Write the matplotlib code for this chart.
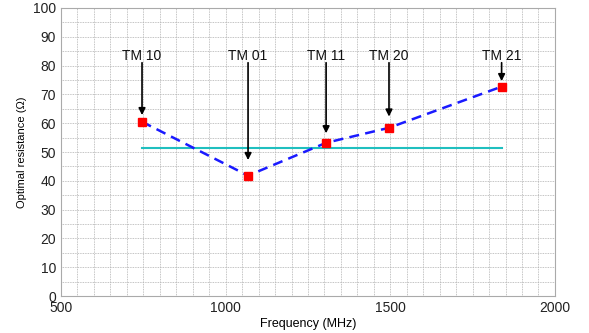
import matplotlib
matplotlib.use("Agg")
import matplotlib.pyplot as plt
import numpy as np

plt.rcParams['font.family'] = ['Liberation Sans', 'DejaVu Sans']

modes = ["TM 10", "TM 01", "TM 11", "TM 20", "TM 21"]
freq = [746, 1068, 1305, 1496, 1838]
resistance = [60.5, 41.8, 53.2, 58.4, 72.7]
ref_level = 51.3
label_y = 83.2
arrow_tail = 81.0
arrow_tip = [62.8, 47.2, 56.5, 62.3, 74.6]

fig = plt.figure(figsize=(5.89, 3.33), dpi=100)
ax = fig.add_axes([0.1036, 0.111, 0.8386, 0.865])

ax.set_xlim(500, 2000)
ax.set_ylim(0, 100)
ax.set_xticks([500, 1000, 1500, 2000])
ax.set_yticks(np.arange(0, 101, 10))
ax.set_xticks(np.arange(500, 2001, 50), minor=True)
ax.set_yticks(np.arange(0, 101, 5), minor=True)
ax.grid(True, which='both', color='#b0b0b0', linestyle=(0, (1, 1)), linewidth=0.6)
ax.set_axisbelow(True)
ax.tick_params(which='both', direction='in', length=0, labelsize=10, colors='#222222')
for s in ax.spines.values():
    s.set_color('#aaaaaa')

ax.plot([freq[0], freq[-1]], [ref_level, ref_level], color='#1fbfbf', linewidth=1.5, zorder=2)
ax.plot(freq, resistance, color='#1a1aff', linestyle=(0, (4, 2.5)), linewidth=1.8, zorder=3)
ax.plot(freq, resistance, linestyle='none', marker='s', markersize=6,
        markerfacecolor='red', markeredgecolor='red', zorder=4)

for m, f, tip in zip(modes, freq, arrow_tip):
    ax.text(f, label_y, m, ha='center', va='center', fontsize=10, color='#111111')
    ax.annotate('', xy=(f, tip), xytext=(f, arrow_tail),
                arrowprops=dict(arrowstyle='-|>', color='black', lw=1.2,
                                mutation_scale=10, shrinkA=0, shrinkB=0))

ax.set_xlabel('Frequency (MHz)', fontsize=9, labelpad=2)
ax.set_ylabel('Optimal resistance (\u03a9)', fontsize=8, labelpad=4)

fig.savefig('out.png', dpi=100)
